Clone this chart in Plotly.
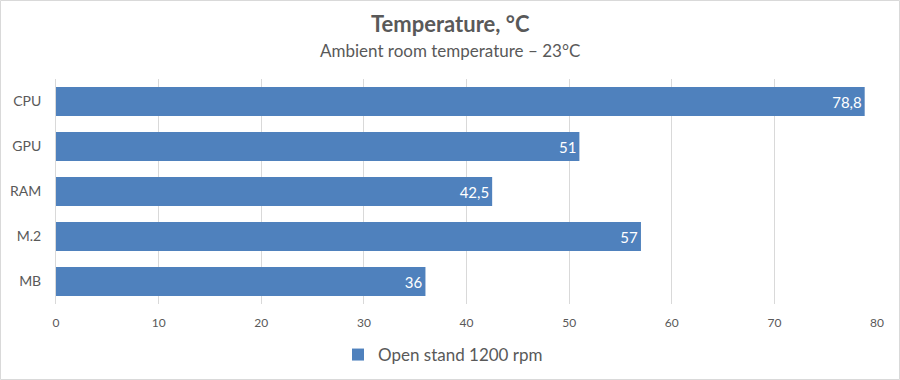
import plotly.graph_objects as go

categories = ["CPU", "GPU", "RAM", "M.2", "MB"]
values = [78.8, 51, 42.5, 57, 36]
series_name = "Open stand 1200 rpm"
x_ticks = [0, 10, 20, 30, 40, 50, 60, 70, 80]

labels = [("%g" % v).replace(".", ",") for v in values]
FONT = "Lato, Carlito, 'Liberation Sans', sans-serif"
GREY = "#595959"

fig = go.Figure()
fig.add_trace(go.Bar(
    y=categories, x=values, orientation="h", name=series_name,
    marker=dict(color="#4f81bd", line=dict(width=0)),
    text=labels, textposition="inside", insidetextanchor="end",
    textfont=dict(color="white", size=15, family=FONT),
    showlegend=True,
))

W, H = 900, 380
ml, mr, mt, mb = 56, 23, 79, 76
pw, ph = W - ml - mr, H - mt - mb

fig.update_layout(
    width=W, height=H,
    margin=dict(l=ml, r=mr, t=mt, b=mb, autoexpand=False),
    paper_bgcolor="white", plot_bgcolor="white",
    font=dict(family=FONT, color=GREY, size=12),
    bargap=0.355,
    xaxis=dict(range=[0, 80], tickvals=x_ticks, showgrid=True, gridcolor="#d9d9d9",
               gridwidth=1, zeroline=False, showline=False, ticks="", automargin=False,
               tickfont=dict(size=12, color=GREY), ticklabelstandoff=10, fixedrange=True),
    yaxis=dict(categoryorder="array", categoryarray=categories, autorange="reversed",
               showline=True, linecolor="#d9d9d9", linewidth=1, ticks="", automargin=False,
               tickfont=dict(size=14, color=GREY), ticklabelstandoff=11),
    legend=dict(orientation="h", x=0.5 - 7 / W, xanchor="center", xref="container",
                y=(H - 355) / H, yanchor="middle", yref="container",
                bgcolor="rgba(0,0,0,0)",
                font=dict(size=17, color=GREY), itemwidth=30),
    annotations=[
        dict(text="<b>Temperature, °C</b>", x=0.5, xref="paper", xanchor="center",
             y=1 + (mt - 24) / ph, yref="paper", yanchor="middle", showarrow=False,
             xshift=(W / 2 - (ml + pw / 2)),
             font=dict(size=22, color=GREY)),
        dict(text="Ambient room temperature – 23°C", x=0.5, xref="paper", xanchor="center",
             y=1 + (mt - 50) / ph, yref="paper", yanchor="middle", showarrow=False,
             xshift=(W / 2 - (ml + pw / 2)),
             font=dict(size=17, color=GREY)),
    ],
    shapes=[dict(type="rect", xref="paper", yref="paper",
                 x0=-(ml - 0.5) / pw, x1=1 + (mr - 0.5) / pw,
                 y0=-(mb - 0.5) / ph, y1=1 + (mt - 0.5) / ph,
                 line=dict(color="#d9d9d9", width=1), layer="below")],
)

fig.write_html("out.html", config={"displayModeBar": False},
               post_script="document.body.style.margin='0';")
